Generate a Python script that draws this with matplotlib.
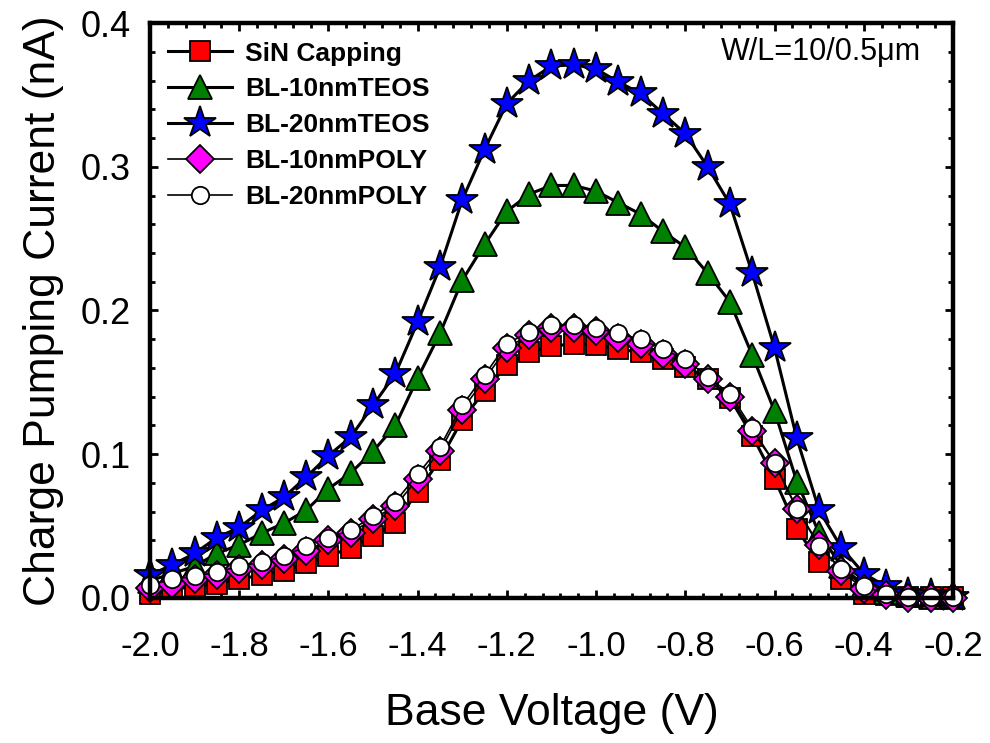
import numpy as np
import matplotlib
matplotlib.use("Agg")
import matplotlib.pyplot as plt
from matplotlib.ticker import MultipleLocator, FormatStrFormatter

plt.rcParams['font.family'] = ['Liberation Sans', 'DejaVu Sans']

# base voltage sweep (V)
vb = [-2.00, -1.95, -1.90, -1.85, -1.80, -1.75, -1.70, -1.65, -1.60, -1.55,
      -1.50, -1.45, -1.40, -1.35, -1.30, -1.25, -1.20, -1.15, -1.10, -1.05,
      -1.00, -0.95, -0.90, -0.85, -0.80, -0.75, -0.70, -0.65, -0.60, -0.55,
      -0.50, -0.45, -0.40, -0.35, -0.30, -0.25, -0.20]

# charge pumping current (nA)
sin_cap = [0.003, 0.006, 0.008, 0.010, 0.013, 0.016, 0.019, 0.024, 0.029, 0.035,
           0.043, 0.052, 0.074, 0.096, 0.124, 0.144, 0.162, 0.171, 0.175, 0.177,
           0.176, 0.173, 0.171, 0.166, 0.161, 0.152, 0.139, 0.113, 0.083, 0.048,
           0.025, 0.013, 0.003, 0.002, 0.001, 0.001, 0.001]
teos10 = [0.012, 0.017, 0.022, 0.031, 0.037, 0.045, 0.052, 0.061, 0.076, 0.087,
          0.102, 0.120, 0.153, 0.184, 0.221, 0.246, 0.269, 0.281, 0.287, 0.287,
          0.283, 0.275, 0.267, 0.255, 0.244, 0.226, 0.206, 0.169, 0.130, 0.081,
          0.045, 0.022, 0.009, 0.004, 0.002, 0.001, 0.001]
teos20 = [0.016, 0.023, 0.031, 0.042, 0.049, 0.061, 0.070, 0.084, 0.099, 0.112,
          0.134, 0.156, 0.192, 0.230, 0.277, 0.312, 0.344, 0.360, 0.370, 0.371,
          0.368, 0.359, 0.351, 0.337, 0.323, 0.300, 0.274, 0.226, 0.174, 0.111,
          0.061, 0.035, 0.017, 0.008, 0.003, 0.002, 0.001]
poly10 = [0.007, 0.010, 0.013, 0.016, 0.020, 0.023, 0.027, 0.033, 0.040, 0.045,
          0.055, 0.064, 0.083, 0.102, 0.131, 0.152, 0.174, 0.183, 0.188, 0.188,
          0.186, 0.181, 0.177, 0.170, 0.163, 0.152, 0.140, 0.116, 0.094, 0.062,
          0.037, 0.019, 0.006, 0.002, 0.000, 0.000, 0.000]
poly20 = [0.009, 0.013, 0.015, 0.018, 0.022, 0.025, 0.029, 0.036, 0.042, 0.047,
          0.057, 0.067, 0.086, 0.105, 0.134, 0.155, 0.177, 0.185, 0.190, 0.190,
          0.188, 0.184, 0.180, 0.173, 0.166, 0.154, 0.142, 0.118, 0.094, 0.062,
          0.036, 0.020, 0.008, 0.003, 0.001, 0.001, 0.001]

fig = plt.figure(figsize=(9.9, 7.43), dpi=100)
ax = fig.add_axes([0.1515, 0.1952, 0.8111, 0.7738])

ax.plot(vb, sin_cap, '-s', color='k', lw=2.2, ms=15, mfc='#ff0000', mec='k',
        mew=1.3, label='SiN Capping', clip_on=False)
ax.plot(vb, teos10, '-^', color='k', lw=2.2, ms=17, mfc='#008000', mec='k',
        mew=1.3, label='BL-10nmTEOS', clip_on=False)
ax.plot(vb, teos20, '-*', color='k', lw=2.2, ms=24, mfc='#0000ff', mec='k',
        mew=1.3, label='BL-20nmTEOS', clip_on=False)
ax.plot(vb, poly10, '-D', color='k', lw=1.2, ms=14.5, mfc='#ff00ff', mec='k',
        mew=1.3, label='BL-10nmPOLY', clip_on=False)
ax.plot(vb, poly20, '-o', color='k', lw=1.2, ms=12.5, mfc='white', mec='k',
        mew=1.3, label='BL-20nmPOLY', clip_on=False)

ax.set_xlim(-2.0, -0.2)
ax.set_ylim(0.0, 0.4)
ax.xaxis.set_major_locator(MultipleLocator(0.2))
ax.xaxis.set_minor_locator(MultipleLocator(0.04))
ax.yaxis.set_major_locator(MultipleLocator(0.1))
ax.yaxis.set_minor_locator(MultipleLocator(0.02))
ax.xaxis.set_major_formatter(FormatStrFormatter('%.1f'))
ax.yaxis.set_major_formatter(FormatStrFormatter('%.1f'))

for s in ax.spines.values():
    s.set_linewidth(3.2)
ax.tick_params(which='both', direction='in', top=True, right=True)
ax.tick_params(which='major', length=6, width=2)
ax.tick_params(which='minor', length=3.5, width=2)
ax.tick_params(axis='x', which='major', labelsize=25, pad=23)
ax.tick_params(axis='y', which='major', labelsize=26, pad=14)

ax.set_xlabel('Base Voltage (V)', fontsize=32, labelpad=22)
ax.set_ylabel('Charge Pumping Current (nA)', fontsize=32, labelpad=12)

ax.text(0.96, 0.975, 'W/L=10/0.5\u03bcm', transform=ax.transAxes,
        fontsize=22, ha='right', va='top')

leg = ax.legend(loc='upper left', frameon=False, handlelength=2.4,
                handletextpad=0.5, labelspacing=0.45, borderaxespad=0.35,
                borderpad=0.35, prop={'weight': 'bold', 'size': 19})

fig.savefig('out.png', dpi=100)
